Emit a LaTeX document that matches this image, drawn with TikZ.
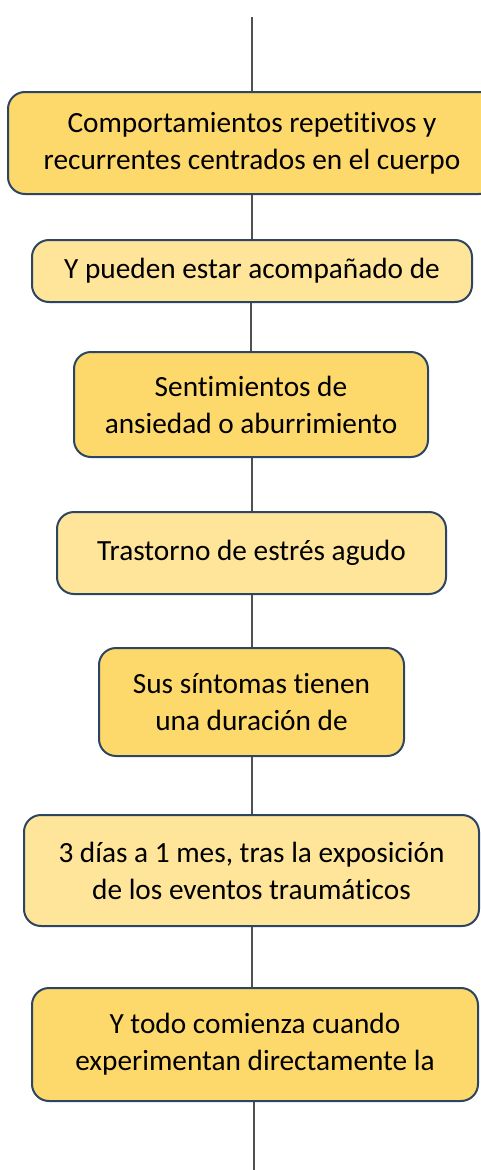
\documentclass[tikz,border=0pt]{standalone}
\usepackage{fontspec}
\setmainfont[Ligatures=NoCommon]{Carlito}
\definecolor{fondoA}{HTML}{FDD86A}
\definecolor{fondoB}{HTML}{FEE599}
\definecolor{borde}{HTML}{2B4562}
\definecolor{linea}{HTML}{505050}
\begin{document}
\begin{tikzpicture}[x=1pt,y=-1pt,
    caja/.style={draw=borde, line width=2pt, rounded corners=17pt, align=center,
      inner sep=0pt, font=\fontsize{29.3}{37}\selectfont},
    oscura/.style={caja, fill=fondoA},
    clara/.style={caja, fill=fondoB},
    enlace/.style={draw=linea, line width=2pt}]
      % Fix the frame
      \useasboundingbox (0,0) rectangle (480,1170);
      % Place the nodes
      \coordinate (inicio) at (252,17);
      \node[oscura, minimum width=488pt, minimum height=102pt] (conducta) at (252,143)
        {Comportamientos repetitivos y\\recurrentes centrados en el cuerpo};
      \node[clara, minimum width=440pt, minimum height=62pt] (acomp) at (252,271)
        {Y pueden estar acompañado de};
      \node[oscura, minimum width=354pt, minimum height=105pt] (sentim) at (251,404.5)
        {Sentimientos de\\ansiedad o aburrimiento};
      \node[clara, minimum width=389pt, minimum height=82pt] (trastorno) at (251.5,553)
        {Trastorno de estrés agudo};
      \node[oscura, minimum width=305pt, minimum height=108pt] (sintomas) at (251.5,702)
        {Sus síntomas tienen\\una duración de};
      \node[clara, minimum width=455pt, minimum height=111pt] (duracion) at (251.5,870.5)
        {3 días a 1 mes, tras la exposición\\de los eventos traumáticos};
      \node[oscura, minimum width=446pt, minimum height=113pt] (comienzo) at (255,1044.5)
        {Y todo comienza cuando\\experimentan directamente la};
      \coordinate (fin) at (254,1170);
      % Draw the links
      \draw[enlace] (inicio) -- (conducta.north -| inicio);
      \draw[enlace] (conducta.south -| acomp) -- (acomp.north);
      \draw[enlace] (acomp.south -| sentim) -- (sentim.north);
      \draw[enlace] (sentim.south -| trastorno) -- (trastorno.north);
      \draw[enlace] (trastorno.south -| sintomas) -- (sintomas.north);
      \draw[enlace] (sintomas.south -| duracion) -- (duracion.north);
      \draw[enlace] (duracion.south) -- (comienzo.north -| duracion);
      \draw[enlace] (comienzo.south -| fin) -- (fin);
    \end{tikzpicture}
\end{document}
